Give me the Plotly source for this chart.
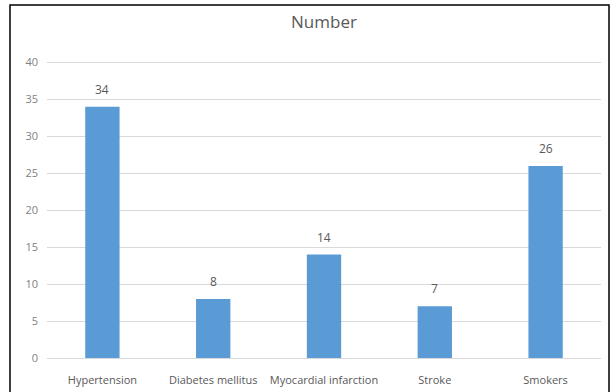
import plotly.graph_objects as go

categories = ["Hypertension", "Diabetes mellitus", "Myocardial infarction", "Stroke", "Smokers"]
counts = [34, 8, 14, 7, 26]
y_ticks = [0, 5, 10, 15, 20, 25, 30, 35, 40]

text_color = "#595959"
font_family = "Open Sans, Liberation Sans, sans-serif"

fig = go.Figure(
    go.Bar(
        x=categories,
        y=counts,
        marker=dict(color="#5B9BD5", line=dict(width=0)),
        width=0.31,
    )
)

# value labels floating a little above each bar
for cat, val in zip(categories, counts):
    fig.add_annotation(
        x=cat,
        y=val,
        text=str(val),
        showarrow=False,
        yanchor="bottom",
        yshift=7,
        font=dict(size=12, color=text_color, family=font_family),
    )

fig.update_layout(
    width=616,
    height=392,
    margin=dict(l=47, r=15, t=61, b=34, autoexpand=False),
    paper_bgcolor="white",
    plot_bgcolor="white",
    showlegend=False,
    title=dict(
        text="Number",
        x=0.5,
        xref="paper",
        y=1 - 22 / 392,
        yanchor="middle",
        font=dict(size=17, color=text_color, family=font_family),
    ),
    font=dict(family=font_family, color=text_color, size=11),
    xaxis=dict(
        showgrid=False,
        showline=False,
        ticks="",
        automargin=False,
        ticklabelstandoff=14,
        tickfont=dict(size=11, color=text_color),
    ),
    yaxis=dict(
        range=[0, 40.2],
        tickvals=y_ticks,
        showgrid=True,
        gridcolor="#D9D9D9",
        gridwidth=1,
        zeroline=True,
        zerolinecolor="#D9D9D9",
        zerolinewidth=1,
        showline=False,
        ticks="",
        automargin=False,
        ticklabelstandoff=8,
        tickfont=dict(size=11, color="#7F7F7F"),
    ),
    shapes=[
        dict(
            type="rect",
            xref="paper",
            yref="paper",
            x0=(10 - 47) / 554,
            x1=(609 - 47) / 554,
            y0=(358 - 420) / 297,
            y1=(358 - 5) / 297,
            line=dict(color="black", width=1.5),
            fillcolor="rgba(0,0,0,0)",
            layer="above",
        )
    ],
)

fig.write_html("out.html")
